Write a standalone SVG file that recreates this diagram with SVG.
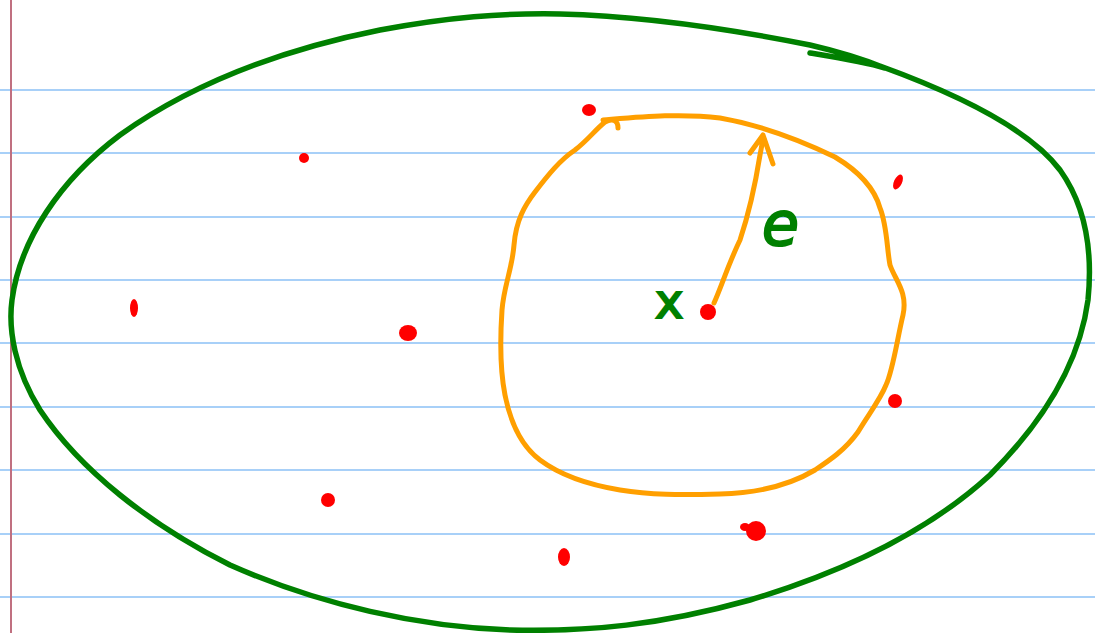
<svg xmlns="http://www.w3.org/2000/svg" width="1095" height="633" viewBox="0 0 1095 633">
<style>
.rule{stroke:#a8d0f8;stroke-width:2}
.ink{fill:none;stroke-linecap:round;stroke-linejoin:round}
.dot{fill:#ff0000}
.lbl{fill:#008000;stroke:#008000;stroke-width:2;font-family:"DejaVu Sans",sans-serif}
</style>
<rect width="1095" height="633" fill="#ffffff"/>
<g id="paper">
<line class="rule" x1="0" y1="90" x2="1095" y2="90"/>
<line class="rule" x1="0" y1="153" x2="1095" y2="153"/>
<line class="rule" x1="0" y1="217" x2="1095" y2="217"/>
<line class="rule" x1="0" y1="280" x2="1095" y2="280"/>
<line class="rule" x1="0" y1="343" x2="1095" y2="343"/>
<line class="rule" x1="0" y1="407" x2="1095" y2="407"/>
<line class="rule" x1="0" y1="470" x2="1095" y2="470"/>
<line class="rule" x1="0" y1="534" x2="1095" y2="534"/>
<line class="rule" x1="0" y1="597" x2="1095" y2="597"/>
<line x1="11" y1="0" x2="11" y2="633" stroke="#c07080" stroke-width="2"/>
</g>
<g id="set">
<path class="ink" stroke="#008000" stroke-width="5.5" d="M810,53 C840,58 865,62 885,68 M880,66 C960,95 1030,130 1060,170 C1085,205 1093,250 1088,300 C1080,360 1045,420 990,475 C930,530 850,570 750,600 C660,625 590,632 510,630 C420,627 320,605 230,565 C150,525 80,470 40,410 C15,370 8,330 12,300 C20,240 60,180 120,135 C190,85 280,50 380,30 C450,17 500,13 560,14 C640,16 720,27 810,45 C840,52 865,60 885,68"/>
</g>
<g id="ball">
<path class="ink" stroke="#ff9f00" stroke-width="5" d="M603,120 C640,117 680,113 720,118 C760,125 800,140 835,157 C860,172 875,190 880,208 C887,225 887,250 890,265 C895,280 908,292 903,315 C897,340 893,370 886,385 C880,400 868,415 858,432 C845,450 830,460 815,470 C790,485 760,493 720,494 C680,495 650,495 620,490 C590,485 560,475 540,460 C520,445 510,420 505,395 C500,370 500,340 502,310 C504,285 512,270 514,245 C516,220 525,205 535,192 C548,175 560,160 575,150 C588,140 595,130 605,122 C612,118 618,120 618,128"/>
</g>
<g id="connectors">
<path class="ink" stroke="#ff9f00" stroke-width="5" d="M714,303 C722,285 728,265 740,240 C750,210 756,180 760,155 C762,145 763,140 763,135 M750,153 L763,135 L773,164"/>
</g>
<g id="points">
<ellipse class="dot" cx="589" cy="110" rx="7" ry="6"/>
<ellipse class="dot" cx="304" cy="158" rx="5" ry="5"/>
<ellipse class="dot" cx="898" cy="182" rx="4" ry="8" transform="rotate(25 898 182)"/>
<ellipse class="dot" cx="134" cy="308" rx="4" ry="9"/>
<ellipse class="dot" cx="408" cy="333" rx="9" ry="8"/>
<ellipse class="dot" cx="708" cy="312" rx="8" ry="8"/>
<ellipse class="dot" cx="895" cy="401" rx="7" ry="7"/>
<ellipse class="dot" cx="328" cy="500" rx="7" ry="7"/>
<ellipse class="dot" cx="756" cy="531" rx="10" ry="10"/>
<ellipse class="dot" cx="745" cy="527" rx="5" ry="4"/>
<ellipse class="dot" cx="564" cy="557" rx="6" ry="9"/>
</g>
<g id="labels">
<text class="lbl" x="655" y="318" font-size="48">x</text>
<text class="lbl" x="762" y="245" font-size="60" font-style="italic">e</text>
</g>
</svg>
